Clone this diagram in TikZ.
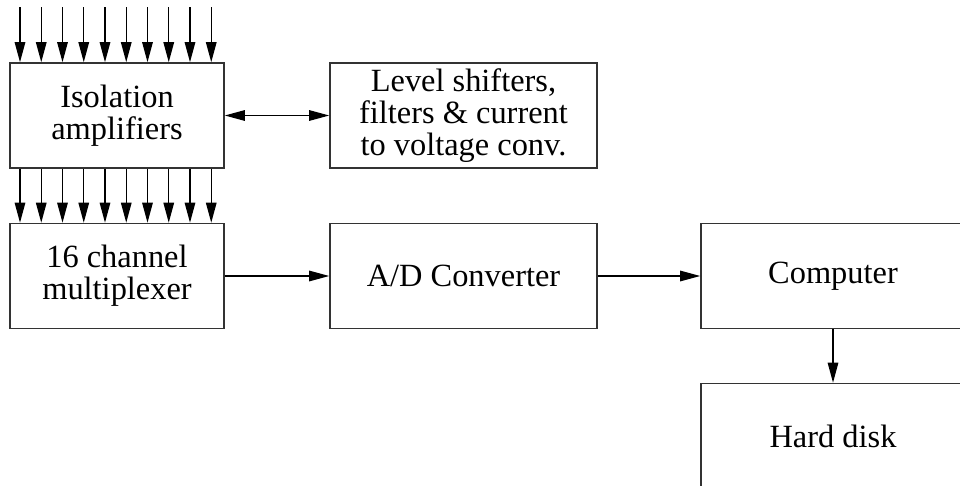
\documentclass[tikz,border=0pt]{standalone}
\usepackage{fontspec}
\setmainfont{Liberation Serif}
\usetikzlibrary{arrows.meta}

\begin{document}
\begin{tikzpicture}[
    x=1pt, y=-1pt,
    every node/.style={font=\fontsize{32.4}{32}\selectfont},
    blk/.style={draw=black!80, line width=1.6pt, rectangle, align=center,
        inner sep=0pt, minimum height=105pt},
    flow/.style={line width=1.3pt, -{Triangle[length=20pt, width=10.5pt]}},
]
\useasboundingbox (0,0) rectangle (960,485);
\clip (0,0) rectangle (960,485);

% ---------------------------------------------------------------- blocks
\node[blk, minimum width=214pt] (iso)  at (117, 115.5) {Isolation\\amplifiers};
\node[blk, minimum width=267pt] (lvl)  at (463.5, 115.5) {Level shifters,\\filters \& current\\to voltage conv.};
\node[blk, minimum width=214pt] (mux)  at (117, 276) {16 channel\\multiplexer};
\node[blk, minimum width=267pt] (adc)  at (463.5, 276) {A/D Converter};
\node[blk, minimum width=264pt] (comp) at (833, 276) {Computer};
\node[blk, minimum width=264pt] (disk) at (833, 436) {Hard disk};

% ---------------------------------------------------------------- inputs
\foreach \i in {0,...,9}{
    \coordinate (in\i) at ({20 + \i*21.25}, 7);
    \draw[flow] (in\i) -- (in\i |- iso.north);
    \draw[flow] (iso.south -| in\i) -- (mux.north -| in\i);
}

% ---------------------------------------------------------------- links
\draw[flow, {Triangle[length=20pt, width=10.5pt]}-{Triangle[length=20pt, width=10.5pt]}]
    (iso.east) -- (lvl.west);
\draw[flow] (mux.east) -- (adc.west);
\draw[flow] (adc.east) -- (comp.west);
\draw[flow] (comp.south) -- (disk.north);

\end{tikzpicture}
\end{document}
